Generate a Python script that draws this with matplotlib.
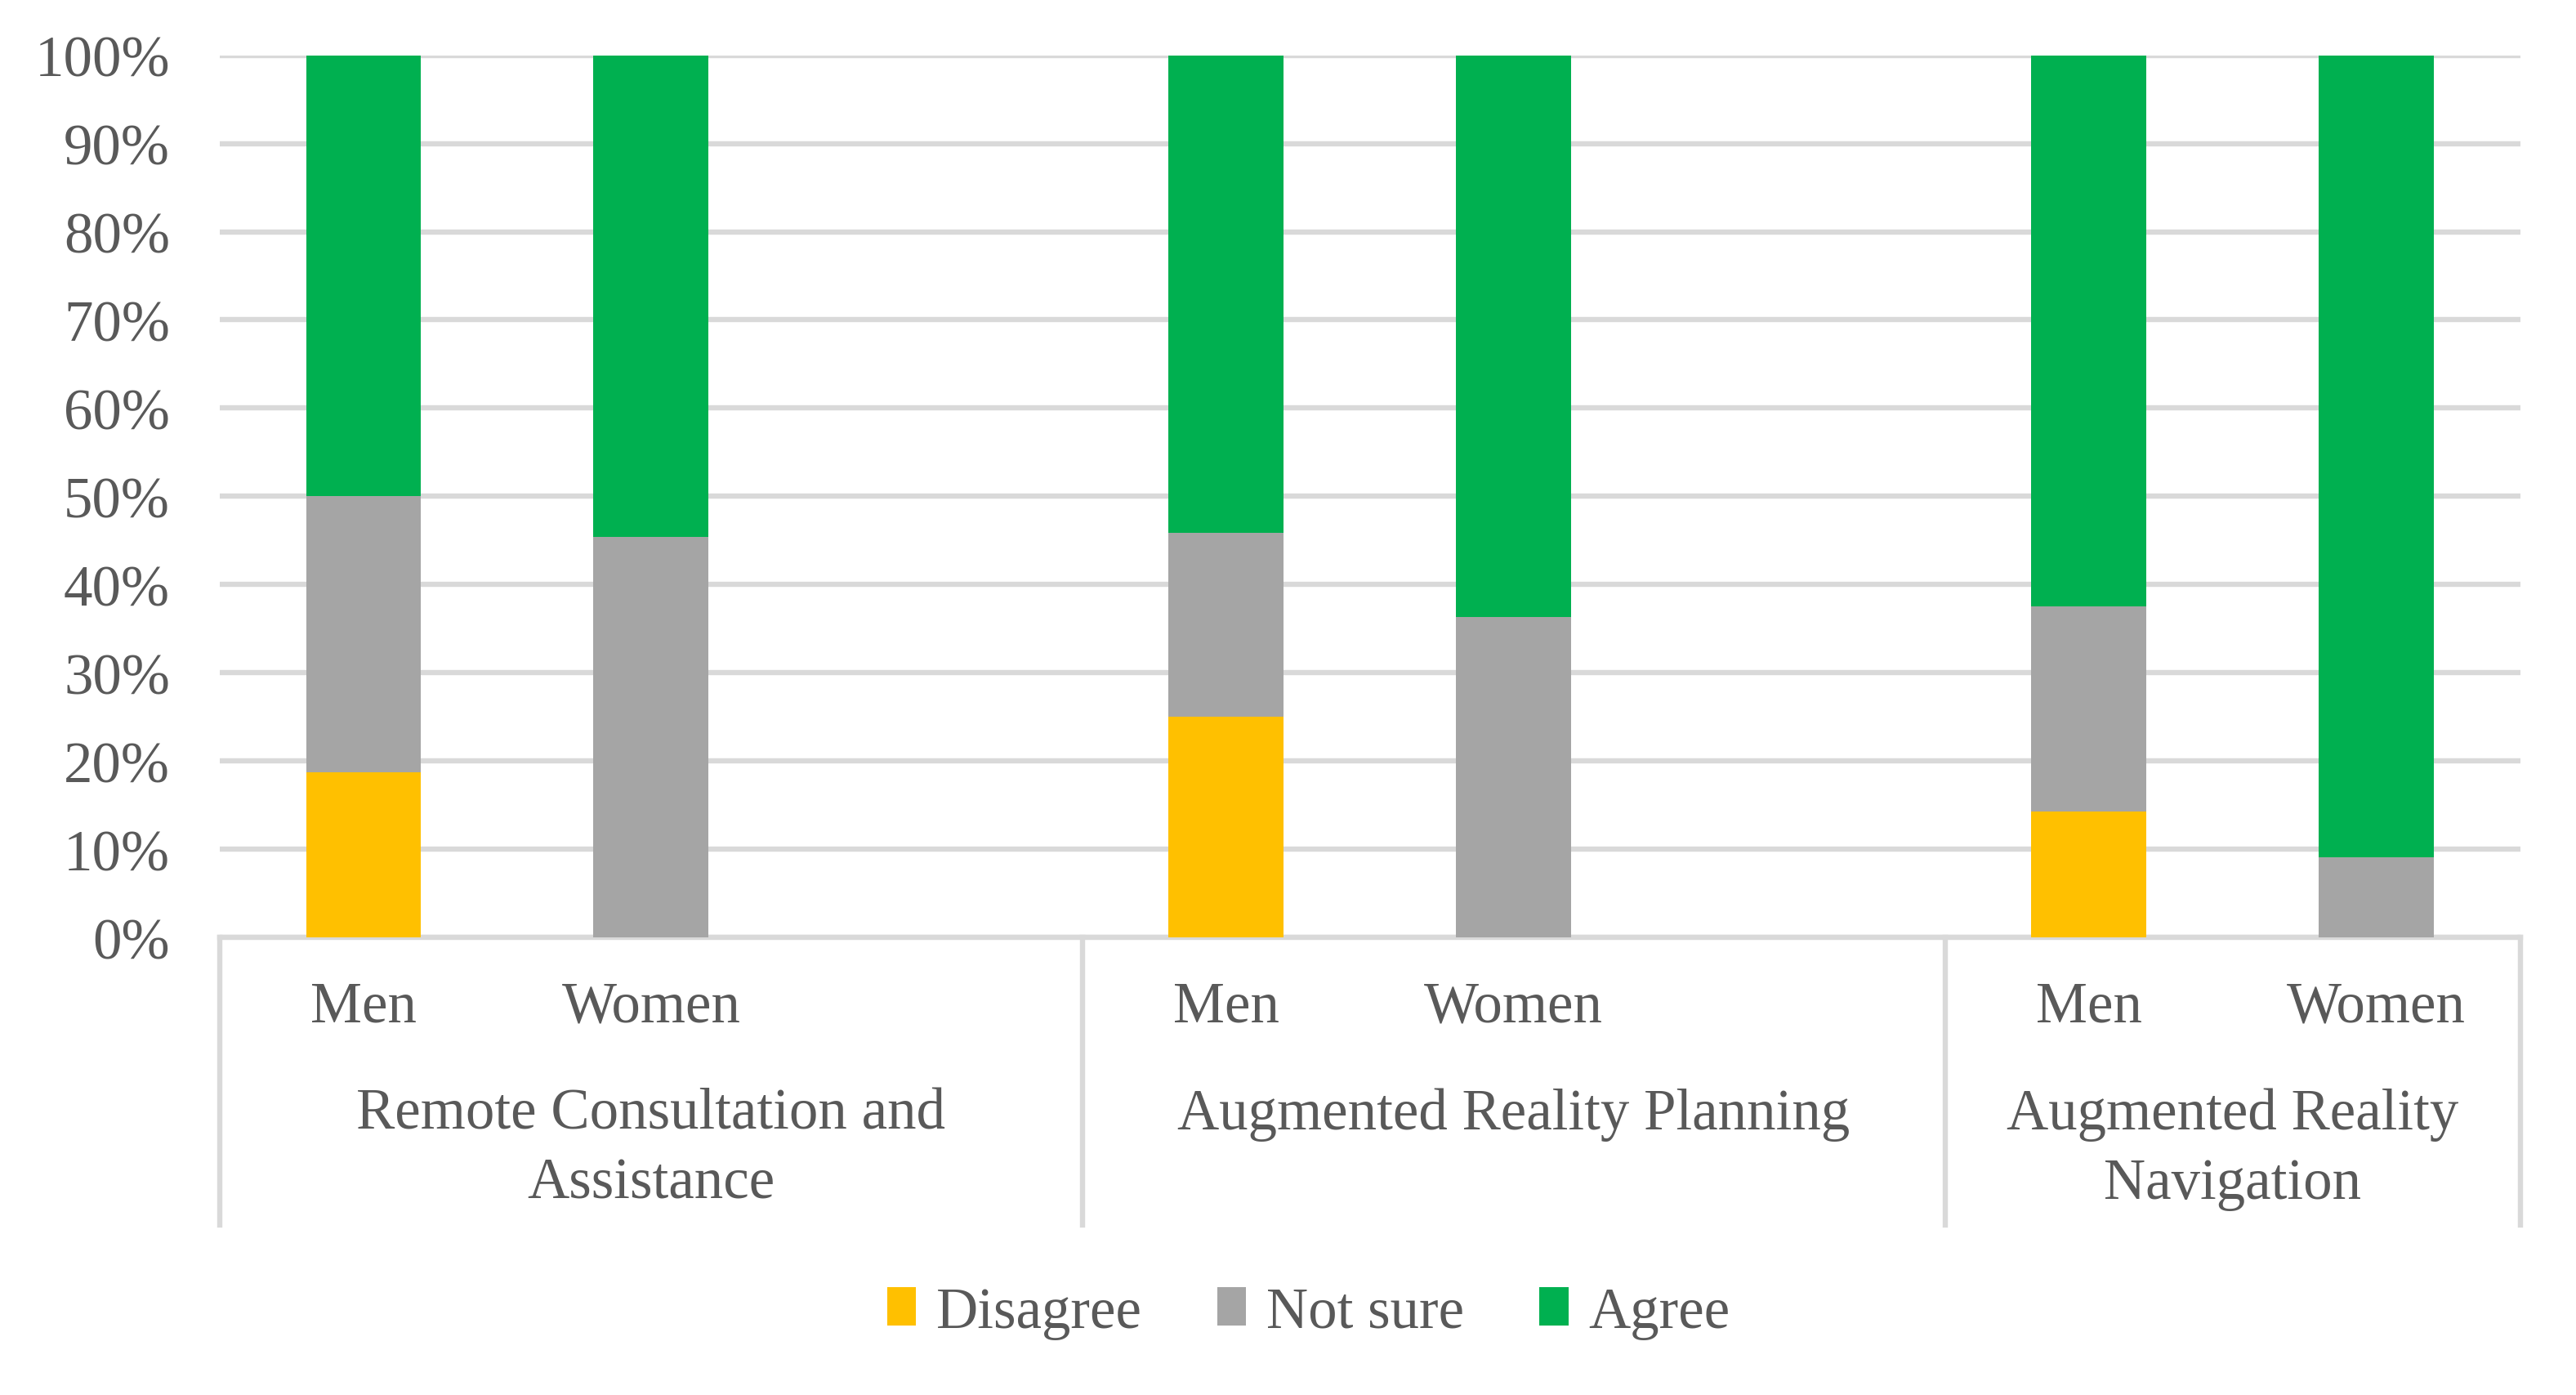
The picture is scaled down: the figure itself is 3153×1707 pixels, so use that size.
import numpy as np
import matplotlib.pyplot as plt
from matplotlib.patches import Patch

# Data (percent of respondents)
slots = ["Men", "Women", "", "Men", "Women", "", "Men", "Women"]
groups = ["Remote Consultation and\nAssistance", "Augmented Reality Planning",
          "Augmented Reality\nNavigation"]
group_centers = [1, 4, 6.5]
group_edges = [-0.5, 2.5, 5.5, 7.5]
bar_pos = [0, 1, 3, 4, 6, 7]
bar_labels = ["Men", "Women", "Men", "Women", "Men", "Women"]

disagree = [18.75, 0, 25.0, 0, 14.3, 0]
not_sure = [31.25, 45.45, 20.83, 36.36, 23.2, 9.09]
agree = [50.0, 54.55, 54.17, 63.64, 62.5, 90.91]

series = ["Disagree", "Not sure", "Agree"]
colors = ["#FFC000", "#A5A5A5", "#00B050"]

txt = "#595959"
grid = "#D9D9D9"
plt.rcParams['font.family'] = ['Liberation Serif', 'DejaVu Serif']
fs = 25.5

fig = plt.figure(figsize=(15.765, 8.54), dpi=200)
ax = fig.add_axes([0.0853, 0.3278, 0.893, 0.632])

vals = np.array([disagree, not_sure, agree]) / 100.0
bottom = np.zeros(len(bar_pos))
for v, c, name in zip(vals, colors, series):
    ax.bar(bar_pos, v, bottom=bottom, width=0.4, color=c, label=name, zorder=3)
    bottom += v

ax.set_xlim(-0.5, 7.5)
ax.set_ylim(0, 1)
ax.set_yticks(np.arange(0, 1.01, 0.1))
ax.set_yticklabels([f"{int(round(t * 100))}%" for t in np.arange(0, 1.01, 0.1)],
                   fontsize=fs, color=txt)
ax.yaxis.grid(True, color=grid, lw=2.3, zorder=0)
ax.tick_params(axis='y', length=0, pad=22)

ax.set_xticks(bar_pos)
ax.set_xticklabels(bar_labels, fontsize=fs, color=txt)
ax.tick_params(axis='x', length=0, pad=19)

for s in ["top", "right", "left"]:
    ax.spines[s].set_visible(False)
ax.spines["bottom"].set_color(grid)
ax.spines["bottom"].set_linewidth(2.3)

trans = ax.get_xaxis_transform()
for e in group_edges:
    ax.plot([e, e], [0, -0.326], transform=trans, color=grid, lw=2.3, clip_on=False)
for gx, g in zip(group_centers, groups):
    ax.text(gx, -0.17, g, transform=trans, ha="center", va="top", fontsize=fs,
            color=txt, linespacing=1.4)

handles = [Patch(facecolor=c, label=n) for c, n in zip(colors, series)]
fig.legend(handles=handles, loc="center", bbox_to_anchor=(0.508, 0.059), ncol=3,
           frameon=False, fontsize=fs, labelcolor=txt, handlelength=0.5,
           handleheight=0.65, handletextpad=0.35, columnspacing=1.3)

fig.savefig("out.png", dpi=200, facecolor="white")
